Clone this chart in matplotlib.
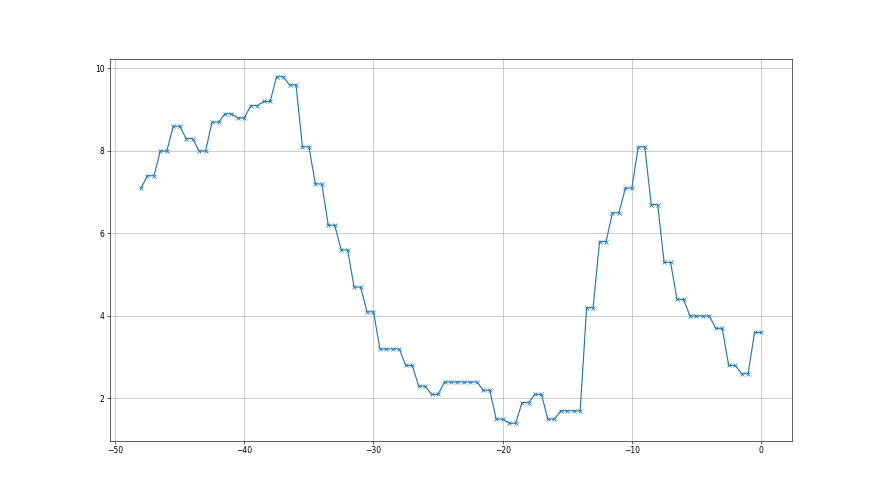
import numpy as np
import matplotlib
matplotlib.use("Agg")
import matplotlib.pyplot as plt

# x positions every half step, -48 .. 0
x = np.arange(-48, 0.5, 0.5)

# one value at -48, then each level is held for two samples
first = [7.1]
levels = [7.4, 8.0, 8.6, 8.3, 8.0, 8.7, 8.9, 8.8, 9.1, 9.2,
          9.8, 9.6, 8.1, 7.2, 6.2, 5.6, 4.7, 4.1, 3.2, 3.2,
          2.8, 2.3, 2.1, 2.4, 2.4, 2.4, 2.2, 1.5, 1.4, 1.9,
          2.1, 1.5, 1.7, 1.7, 4.2, 5.8, 6.5, 7.1, 8.1, 6.7,
          5.3, 4.4, 4.0, 4.0, 3.7, 2.8, 2.6, 3.6]

y = first + [v for v in levels for _ in range(2)]

fig, ax = plt.subplots(figsize=(16, 9), dpi=55)
ax.plot(x, y, marker="x")
ax.grid(True)

fig.savefig("out.png", dpi=55)
